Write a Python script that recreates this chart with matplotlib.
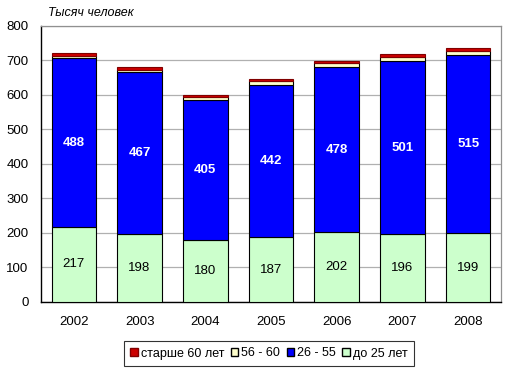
import matplotlib
matplotlib.use("Agg")
import matplotlib.pyplot as plt
import numpy as np
from matplotlib.patches import Patch

years = ["2002", "2003", "2004", "2005", "2006", "2007", "2008"]
under25 = [217, 198, 180, 187, 202, 196, 199]
age26_55 = [488, 467, 405, 442, 478, 501, 515]
age56_60 = [8, 7, 8, 10, 11, 13, 13]
over60 = [8, 7, 7, 7, 7, 7, 7]
series_names = ["старше 60 лет", "56 - 60", "26 - 55", "до 25 лет"]
yticks = [0, 100, 200, 300, 400, 500, 600, 700, 800]

plt.rcParams['font.family'] = ['Liberation Sans', 'DejaVu Sans']

fig = plt.figure(figsize=(5.16, 3.73), dpi=100)
ax = fig.add_axes([41/516, 1-302/373, 460/516, 276.5/373])

x = np.arange(len(years))
w = 0.68
c_green, c_blue, c_cream, c_red = "#CCFFCC", "#0000FF", "#FFFFCC", "#CC0000"
ax.bar(x, under25, w, color=c_green, edgecolor="black", linewidth=0.8, zorder=3)
bot2 = np.array(under25)
ax.bar(x, age26_55, w, bottom=bot2, color=c_blue, edgecolor="black", linewidth=0.8, zorder=3)
bot3 = bot2 + np.array(age26_55)
ax.bar(x, age56_60, w, bottom=bot3, color=c_cream, edgecolor="black", linewidth=0.8, zorder=3)
bot4 = bot3 + np.array(age56_60)
ax.bar(x, over60, w, bottom=bot4, color=c_red, edgecolor="#800000", linewidth=0.8, zorder=3)

for i in range(len(years)):
    ax.text(x[i], under25[i] / 2, str(under25[i]), ha="center", va="center",
            fontsize=9.5, color="black", zorder=4)
    ax.text(x[i], bot2[i] + age26_55[i] / 2, str(age26_55[i]), ha="center", va="center",
            fontsize=9.5, color="white", fontweight="bold", zorder=4)

ax.set_xlim(-0.5, len(years) - 0.5)
ax.set_ylim(0, 800)
ax.set_yticks(yticks)
ax.set_xticks(x)
ax.set_xticklabels(years)
ax.tick_params(axis="both", labelsize=9.5, length=0)
ax.tick_params(axis="x", pad=10)
ax.tick_params(axis="y", pad=9)
ax.grid(axis="y", color="#B0B0B0", linewidth=0.9, zorder=0)
ax.set_axisbelow(True)
for s in ["top", "right"]:
    ax.spines[s].set_color("#909090")
    ax.spines[s].set_linewidth(0.9)
for s in ["left", "bottom"]:
    ax.spines[s].set_color("black")
    ax.spines[s].set_linewidth(1.0)

fig.text(48/516, 1-13/373, "Тысяч человек", fontsize=9, style="italic",
         ha="left", va="center")

handles = [Patch(facecolor=c_red, edgecolor="#800000"),
           Patch(facecolor=c_cream, edgecolor="black"),
           Patch(facecolor=c_blue, edgecolor="black"),
           Patch(facecolor=c_green, edgecolor="black")]
leg = fig.legend(handles, series_names, loc="center", bbox_to_anchor=(269/516, 1-353.5/373),
                 ncol=4, frameon=True, fontsize=9, handlelength=0.6, handleheight=0.6,
                 handletextpad=0.25, columnspacing=0.5, borderpad=0.5, fancybox=False)
leg.get_frame().set_edgecolor("black")
leg.get_frame().set_linewidth(0.8)

fig.savefig("out.png", dpi=100)
